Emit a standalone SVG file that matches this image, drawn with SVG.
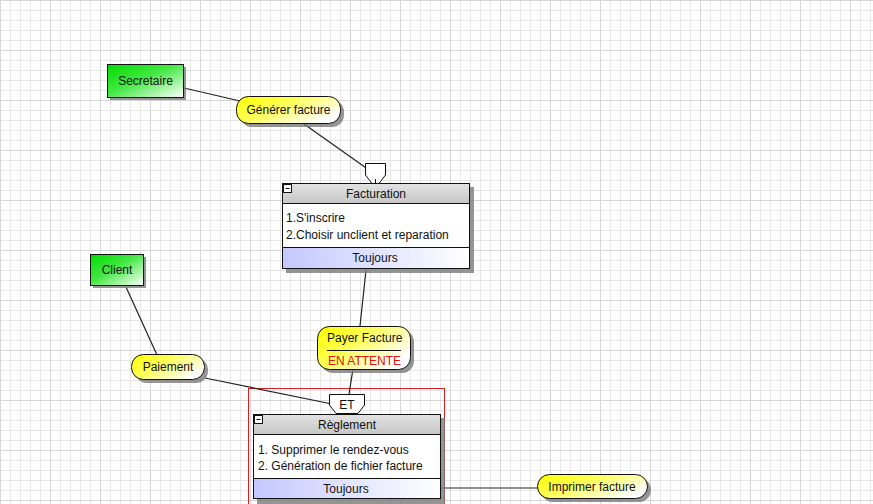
<svg xmlns="http://www.w3.org/2000/svg" width="873" height="504" viewBox="0 0 873 504">
  <style>
    text { font-family: "Liberation Sans", Arial, sans-serif; font-size: 12px; fill: #111; }
    .mid { text-anchor: middle; }
    .edge { stroke: #222; stroke-width: 1.2; fill: none; }
    .shadow { fill: #7a7a7a; opacity: 0.8; }
    .outline { stroke: #111; stroke-width: 1; }
    .sep { stroke: #111; stroke-width: 1; }
    .wait { fill: #dd1111; }
  </style>
  <defs>
    <!-- 10px minor grid with a darker line every 50px -->
    <pattern id="grid" width="50" height="50" patternUnits="userSpaceOnUse">
      <path d="M10.5 0 V50 M20.5 0 V50 M30.5 0 V50 M40.5 0 V50 M0 10.5 H50 M0 20.5 H50 M0 30.5 H50 M0 40.5 H50" stroke="#e7e7e7" stroke-width="1" fill="none"/>
      <path d="M0.5 0 V50 M0 0.5 H50" stroke="#d6d6d6" stroke-width="1" fill="none"/>
    </pattern>
    <linearGradient id="actorFill" x1="0" y1="0" x2="1" y2="1">
      <stop offset="0" stop-color="#00dd00"/>
      <stop offset="0.45" stop-color="#44e844"/>
      <stop offset="1" stop-color="#ffffff"/>
    </linearGradient>
    <linearGradient id="eventFill" x1="0" y1="0" x2="1" y2="0.6">
      <stop offset="0" stop-color="#ffff00"/>
      <stop offset="0.45" stop-color="#ffff55"/>
      <stop offset="1" stop-color="#ffffff"/>
    </linearGradient>
    <linearGradient id="headerFill" x1="0" y1="0" x2="0" y2="1">
      <stop offset="0" stop-color="#e2e2e2"/>
      <stop offset="1" stop-color="#c6c6c6"/>
    </linearGradient>
    <linearGradient id="footerFill" x1="0" y1="0" x2="1" y2="0">
      <stop offset="0" stop-color="#c4c8ff"/>
      <stop offset="1" stop-color="#ffffff"/>
    </linearGradient>
  </defs>

  <!-- canvas -->
  <rect width="873" height="504" fill="#ffffff"/>
  <rect width="873" height="504" fill="url(#grid)"/>

  <!-- synchronisation frame -->
  <rect x="248.5" y="388.5" width="196" height="130" fill="none" stroke="#d42020" stroke-width="1"/>

  <!-- connectors -->
  <g id="connectors">
    <line class="edge" x1="184" y1="88" x2="240" y2="101"/>
    <line class="edge" x1="304" y1="124" x2="369" y2="170"/>
    <line class="edge" x1="366" y1="270" x2="360" y2="326"/>
    <line class="edge" x1="126" y1="287" x2="157" y2="355"/>
    <line class="edge" x1="205" y1="378" x2="332" y2="404"/>
    <line class="edge" x1="353" y1="369" x2="349" y2="394"/>
    <line class="edge" x1="441" y1="488" x2="538" y2="488"/>
  </g>

  <!-- actors -->
  <g id="secretaire">
    <rect class="shadow" x="110" y="67" width="76" height="33"/>
    <rect class="outline" x="107.5" y="64.5" width="76" height="33" fill="url(#actorFill)"/>
    <text class="mid" x="145.5" y="85">Secretaire</text>
  </g>
  <g id="client">
    <rect class="shadow" x="93" y="257" width="53" height="31"/>
    <rect class="outline" x="90.5" y="254.5" width="53" height="31" fill="url(#actorFill)"/>
    <text class="mid" x="117" y="274">Client</text>
  </g>

  <!-- events -->
  <g id="generer-facture">
    <rect class="shadow" x="240" y="100" width="104" height="27" rx="12"/>
    <rect class="outline" x="236.5" y="96.5" width="104" height="27" rx="12" fill="url(#eventFill)"/>
    <text class="mid" x="288.5" y="113.5">Générer facture</text>
  </g>
  <g id="paiement">
    <rect class="shadow" x="135" y="358" width="73" height="25" rx="12"/>
    <rect class="outline" x="131.5" y="354.5" width="73" height="25" rx="12" fill="url(#eventFill)"/>
    <text class="mid" x="168" y="371">Paiement</text>
  </g>
  <g id="payer-facture">
    <rect class="shadow" x="321" y="330" width="93" height="43" rx="12"/>
    <rect class="outline" x="317.5" y="326.5" width="93" height="43" rx="12" fill="url(#eventFill)"/>
    <text x="327" y="342">Payer Facture</text>
    <line class="sep" x1="327" y1="350.5" x2="401" y2="350.5"/>
    <text class="wait" x="328" y="365">EN ATTENTE</text>
  </g>
  <g id="imprimer-facture">
    <rect class="shadow" x="541" y="478" width="110" height="24" rx="12"/>
    <rect class="outline" x="537.5" y="474.5" width="110" height="24" rx="12" fill="url(#eventFill)"/>
    <text class="mid" x="592" y="491">Imprimer facture</text>
  </g>

  <!-- operations -->
  <g id="facturation">
    <path class="outline" d="M365.5 163.5 H385.5 V175 L379 183.5 H372 L365.5 175 Z" fill="#ffffff"/>
    <line class="sep" x1="375.5" y1="179" x2="375.5" y2="183"/>
    <rect class="shadow" x="286" y="187" width="188" height="86"/>
    <rect class="outline" x="282.5" y="183.5" width="187" height="85" fill="#ffffff"/>
    <rect x="283" y="184" width="186" height="19.5" fill="url(#headerFill)"/>
    <line class="sep" x1="282.5" y1="203.5" x2="469.5" y2="203.5"/>
    <rect x="283" y="248" width="186" height="20" fill="url(#footerFill)"/>
    <line class="sep" x1="282.5" y1="247.5" x2="469.5" y2="247.5"/>
    <rect class="outline" x="283.5" y="184.5" width="8" height="8" fill="#ffffff"/>
    <line class="sep" x1="285.5" y1="188.5" x2="289.5" y2="188.5"/>
    <text class="mid" x="376" y="198">Facturation</text>
    <text x="286" y="222">1.S'inscrire</text>
    <text x="286" y="239">2.Choisir unclient et reparation</text>
    <text class="mid" x="375" y="262">Toujours</text>
  </g>

  <g id="reglement">
    <path class="outline" d="M329.5 394.5 H364.5 V405 L358 413.5 H336 L329.5 405 Z" fill="#ffffff"/>
    <text class="mid" x="347" y="409">ET</text>
    <rect class="shadow" x="257" y="418" width="188" height="86"/>
    <rect class="outline" x="253.5" y="414.5" width="187" height="84" fill="#ffffff"/>
    <rect x="254" y="415" width="186" height="19.5" fill="url(#headerFill)"/>
    <line class="sep" x1="253.5" y1="434.5" x2="440.5" y2="434.5"/>
    <rect x="254" y="479" width="186" height="19" fill="url(#footerFill)"/>
    <line class="sep" x1="253.5" y1="478.5" x2="440.5" y2="478.5"/>
    <rect class="outline" x="254.5" y="415.5" width="8" height="8" fill="#ffffff"/>
    <line class="sep" x1="256.5" y1="419.5" x2="260.5" y2="419.5"/>
    <text class="mid" x="347" y="429">Règlement</text>
    <text x="258" y="454">1. Supprimer le rendez-vous</text>
    <text x="258" y="470">2. Génération de fichier facture</text>
    <text class="mid" x="346" y="493">Toujours</text>
  </g>
</svg>
